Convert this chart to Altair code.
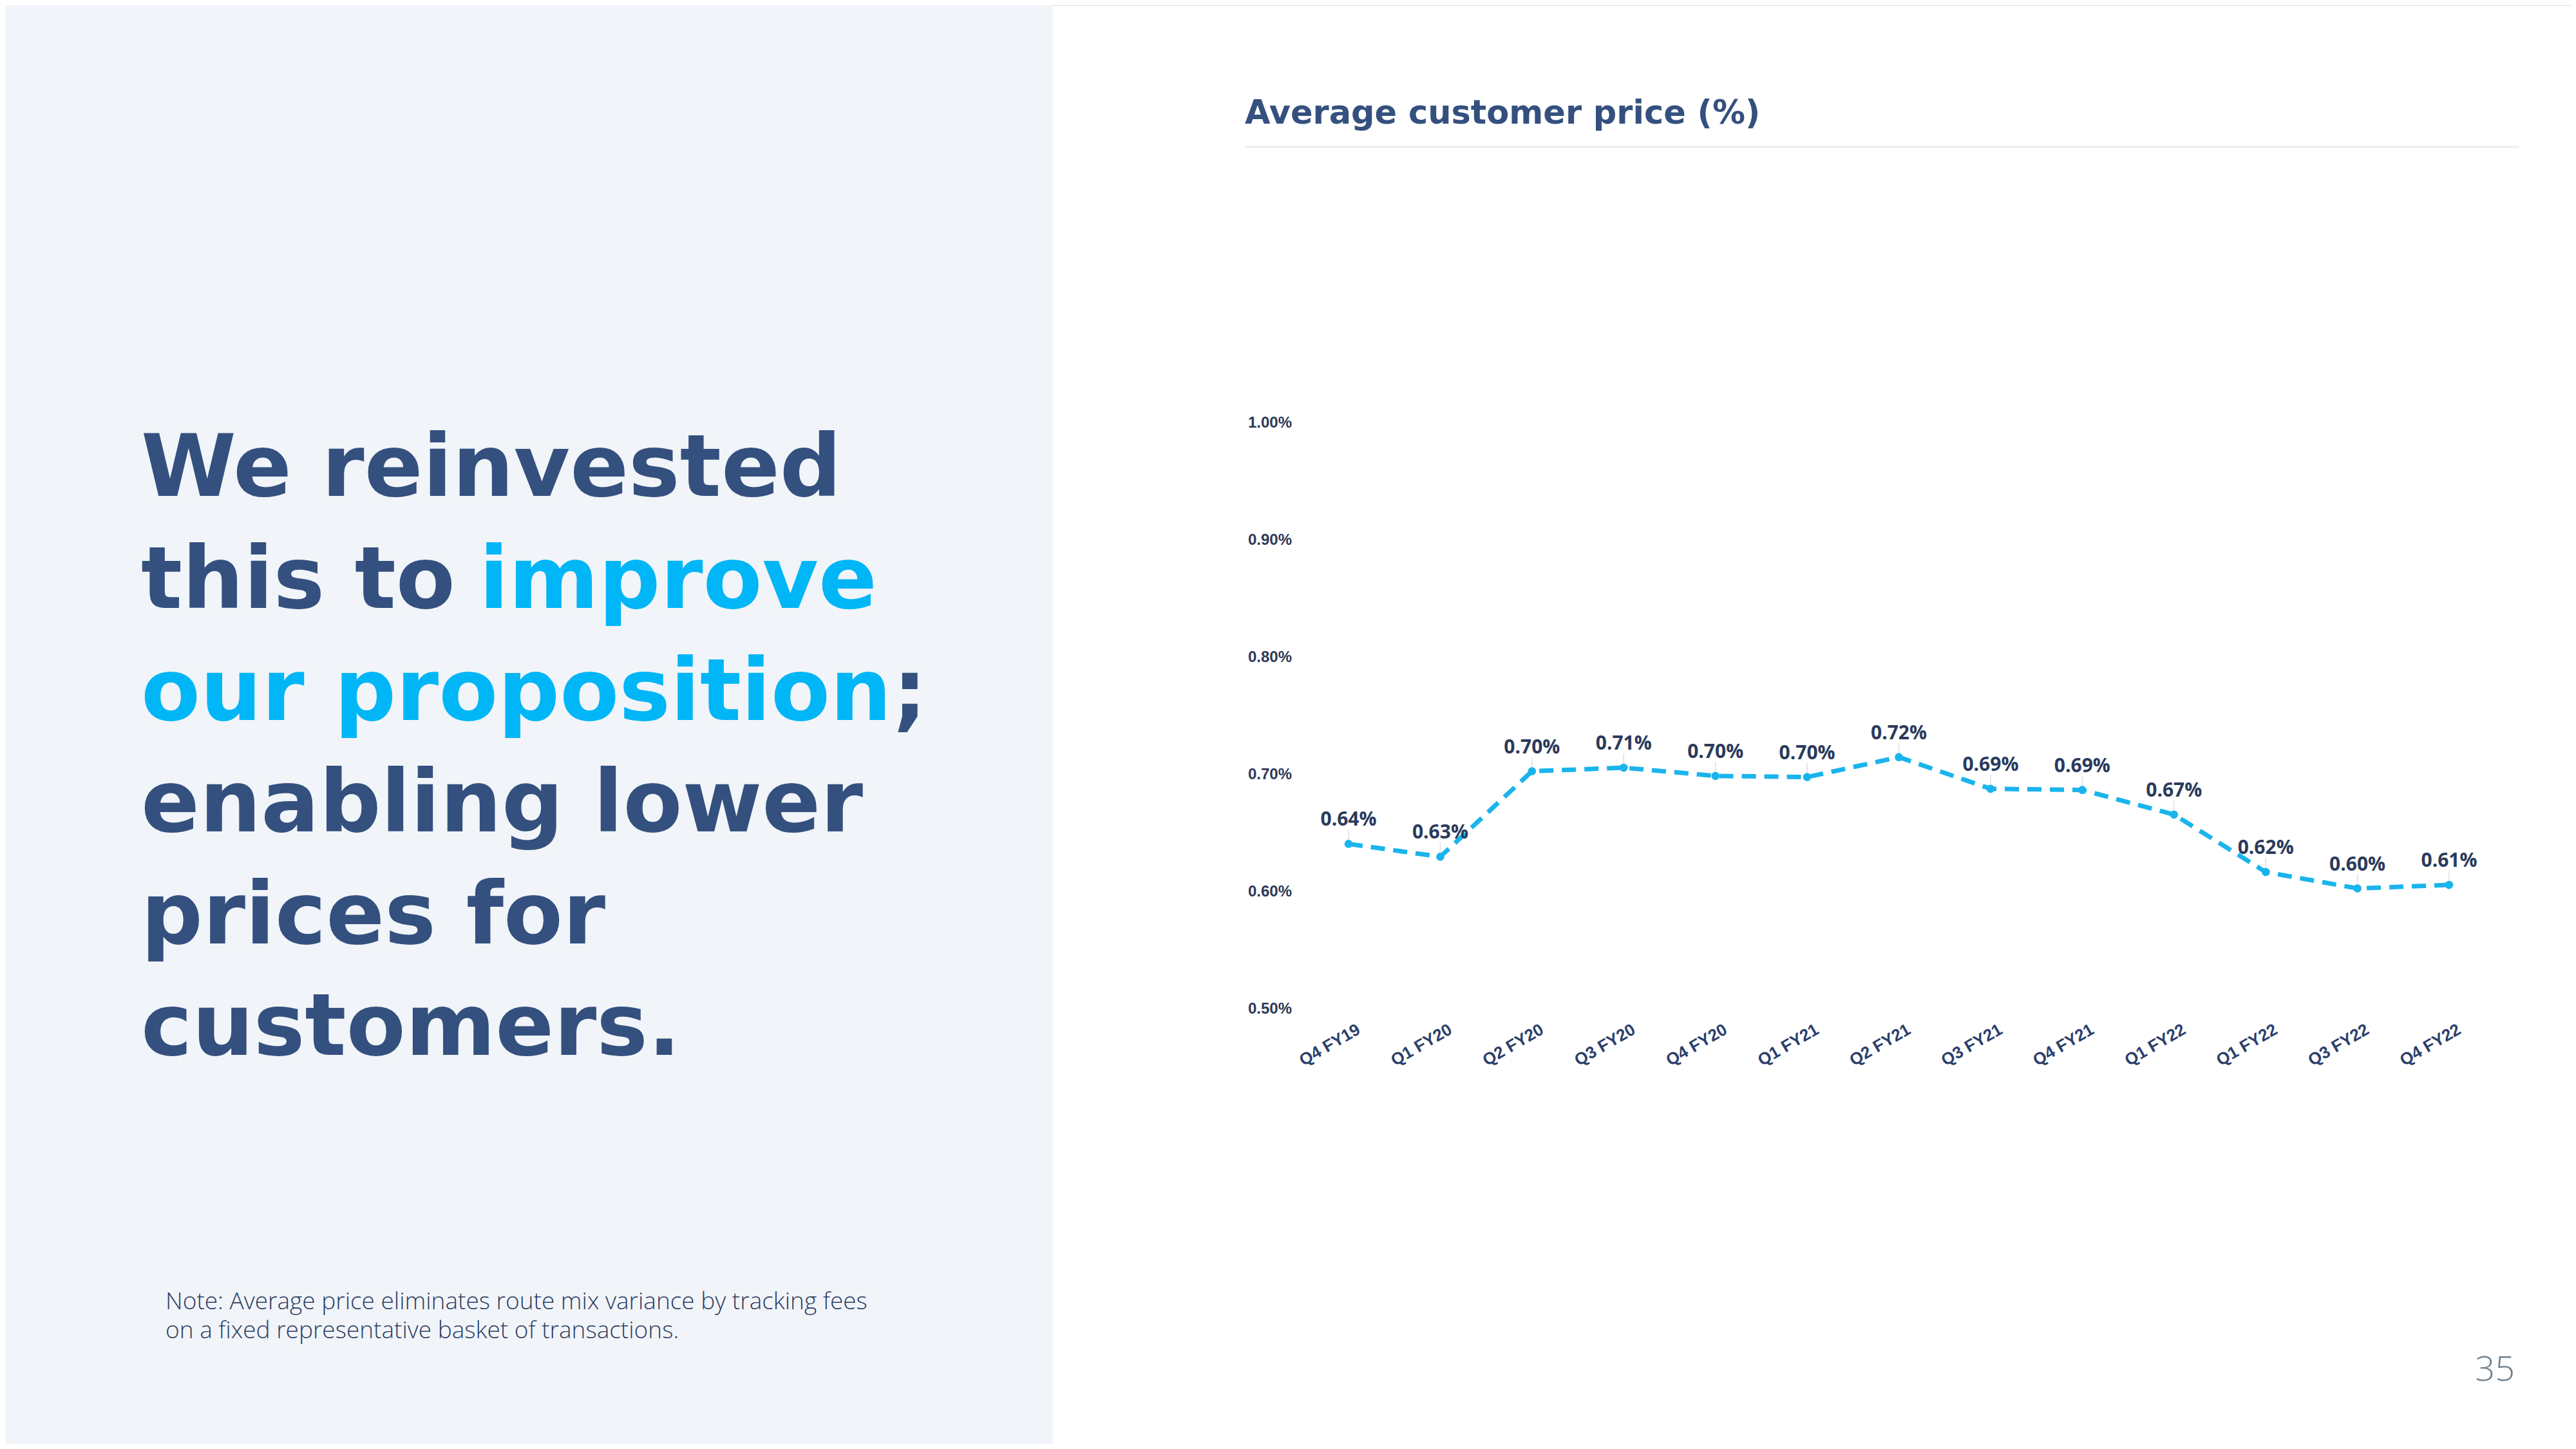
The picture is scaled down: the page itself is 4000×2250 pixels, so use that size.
import altair as alt
import pandas as pd

# ---------------- data ----------------
quarters = ["Q4 FY19", "Q1 FY20", "Q2 FY20", "Q3 FY20", "Q4 FY20", "Q1 FY21", "Q2 FY21",
            "Q3 FY21", "Q4 FY21", "Q1 FY22", "Q1 FY22", "Q3 FY22", "Q4 FY22"]
avg_price_pct = [0.641, 0.630, 0.703, 0.706, 0.699, 0.698, 0.715,
                 0.688, 0.687, 0.666, 0.617, 0.603, 0.606]
value_labels = ["0.64%", "0.63%", "0.70%", "0.71%", "0.70%", "0.70%", "0.72%",
                "0.69%", "0.69%", "0.67%", "0.62%", "0.60%", "0.61%"]
y_ticks = [0.50, 0.60, 0.70, 0.80, 0.90, 1.00]

chart_title = "Average customer price (%)"
headline_navy = "#34507E"
headline_cyan = "#00B6F6"
note_lines = ["Note: Average price eliminates route mix variance by tracking fees",
              "on a fixed representative basket of transactions."]
page_number = "35"

# ---------------- layout ----------------
W, H = 3984, 2234
df = pd.DataFrame({"i": list(range(len(quarters))), "q": quarters,
                   "v": avg_price_pct, "lab": value_labels})
ticks = pd.DataFrame({"t": y_ticks})
one = pd.DataFrame({"a": [0]})

xs = alt.Scale(domain=[0, len(quarters) - 1], range=[2086, 3795], nice=False, zero=False)
ys = alt.Scale(domain=[0.5, 1.0], range=[1559, 649], nice=False, zero=False)
X = alt.X("i:Q", scale=xs, axis=None)
Y = alt.Y("v:Q", scale=ys, axis=None)

LINE = "#1AB4EC"
LABEL = "#2A3A5C"
HEAD_FONT = "DejaVu Sans"


def txt(s, x, y, size, color, font=HEAD_FONT, weight="bold", align="left"):
    return alt.Chart(one).mark_text(
        text=s, align=align, baseline="alphabetic", font=font,
        fontSize=size, fontWeight=weight, color=color
    ).encode(x=alt.value(x), y=alt.value(y))


panel = alt.Chart(one).mark_rect(color="#F1F4F8").encode(
    x=alt.value(0), x2=alt.value(1627), y=alt.value(0), y2=alt.value(H))

HS = 134
headline = [
    txt("We reinvested", 211, 762, HS, headline_navy),
    txt("this to", 211, 936, HS, headline_navy),
    txt("improve", 736, 936, HS, headline_cyan),
    txt("our proposition", 211, 1110, HS, headline_cyan),
    txt(";", 1378, 1110, HS, headline_navy),
    txt("enabling lower", 211, 1283, HS, headline_navy),
    txt("prices for", 211, 1457, HS, headline_navy),
    txt("customers.", 211, 1630, HS, headline_navy),
]

notes = [
    txt(note_lines[0], 249, 2025, 37, "#2D3E63", font="Open Sans", weight=300),
    txt(note_lines[1], 249, 2070, 37, "#2D3E63", font="Open Sans", weight=300),
]

page = txt(page_number, 3897, 2136, 54, "#6E7F8D", font="Open Sans", weight=300, align="right")

title = txt(chart_title, 1925, 184, 51, headline_navy)
underline = alt.Chart(one).mark_rule(color="#ECEEF0", strokeWidth=3).encode(
    x=alt.value(1925), x2=alt.value(3903), y=alt.value(220))

ytick_labels = alt.Chart(ticks).transform_calculate(
    lab="format(datum.t, '.2f') + '%'"
).mark_text(align="left", baseline="middle", font="Liberation Sans", fontWeight="bold",
            fontSize=24, color="#2E3A59").encode(
    x=alt.value(1930), y=alt.Y("t:Q", scale=ys, axis=None), text="lab:N")

base = alt.Chart(df)

leaders = base.transform_calculate(vtop="datum.v + 0.012").mark_rule(
    color="#DCDFE3", strokeWidth=1.5).encode(x=X, y=Y, y2="vtop:Q")

line = base.mark_line(color=LINE, strokeWidth=7, strokeDash=[22, 13]).encode(x=X, y=Y)

points = base.mark_circle(color=LINE, size=160, opacity=1).encode(x=X, y=Y)

vlabels = base.mark_text(dy=-28, baseline="alphabetic", align="center", font="Open Sans",
                         fontWeight="bold", fontSize=30, color=LABEL).encode(
    x=X, y=Y, text="lab:N")

xlabels = base.mark_text(angle=330, align="right", baseline="top", dx=11, font="Liberation Sans",
                         fontWeight="bold", fontSize=26, color="#2B3F6B").encode(
    x=X, y=alt.value(1583), text="q:N")

chart = alt.layer(
    panel, *headline, *notes, page, title, underline,
    ytick_labels, leaders, line, points, vlabels, xlabels
).properties(
    width=W, height=H, autosize=alt.AutoSizeParams(type="none"), padding=0
).configure_view(stroke=None).configure(background="white")

chart.save("out.html", embed_options={"renderer": "svg", "actions": False})
